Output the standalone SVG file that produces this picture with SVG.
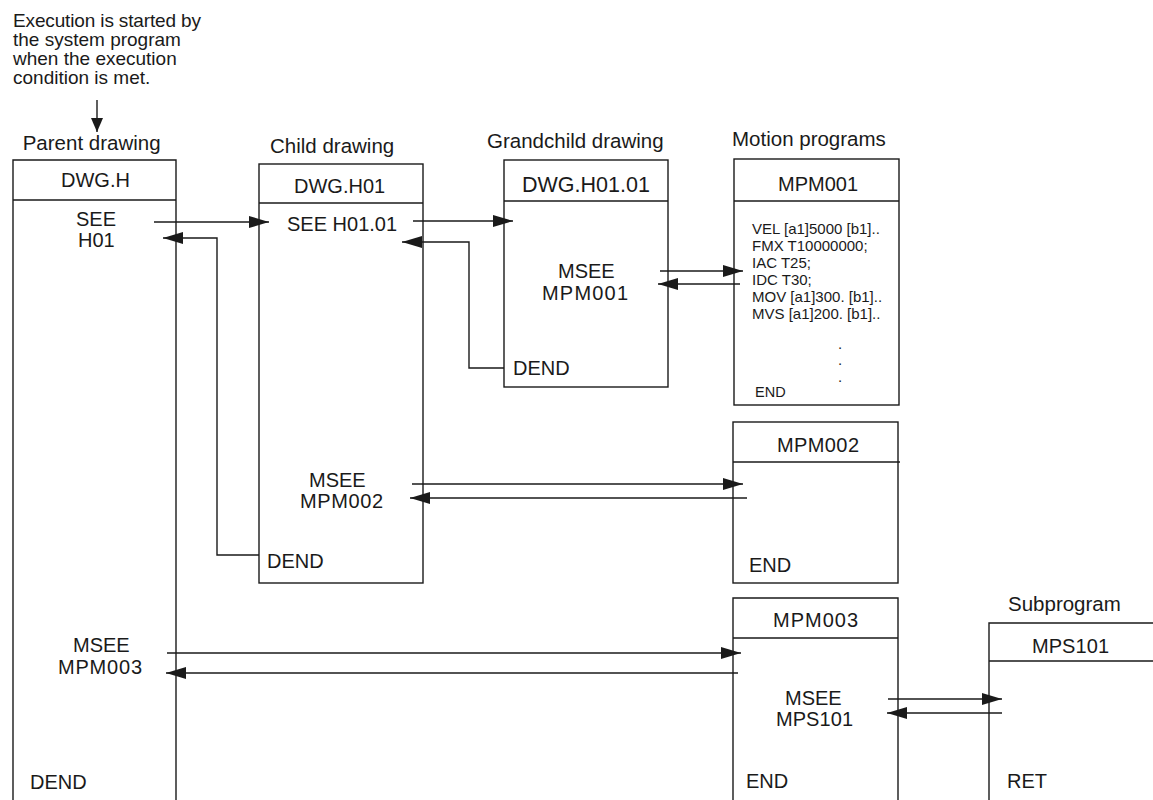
<svg xmlns="http://www.w3.org/2000/svg" width="1153" height="800" viewBox="0 0 1153 800">
<defs>
<style>
text{font-family:"Liberation Sans",Arial,Helvetica,sans-serif;fill:#1a1a1a;font-size:20px}
.lbl{font-size:20.5px}
.note{font-size:19px}
.code{font-size:15px}
.box{fill:none;stroke:#1a1a1a;stroke-width:1.4}
.con{fill:none;stroke:#1a1a1a;stroke-width:1.4;marker-end:url(#ah)}
</style>
<marker id="ah" viewBox="0 0 20 12" markerWidth="20" markerHeight="12" refX="20" refY="6" markerUnits="userSpaceOnUse" orient="auto">
<path d="M0,0 L20,6 L0,12 z" fill="#1a1a1a"/>
</marker>
<marker id="ahs" viewBox="0 0 14 12" markerWidth="14" markerHeight="12" refX="14" refY="6" markerUnits="userSpaceOnUse" orient="auto">
<path d="M0,0 L14,6 L0,12 z" fill="#1a1a1a"/>
</marker>
</defs>
<rect width="1153" height="800" fill="#ffffff"/>

<g id="note">
<text class="note" x="13" y="26.5" textLength="188">Execution is started by</text>
<text class="note" x="13" y="45.5">the system program</text>
<text class="note" x="13" y="64.5">when the execution</text>
<text class="note" x="13" y="83.5">condition is met.</text>
</g>

<g id="parent">
<text class="lbl" x="22.7" y="150">Parent drawing</text>
<path class="box" d="M13,800 V160 H176 V800 M13,200 H176"/>
<text x="61" y="187">DWG.H</text>
<text x="76" y="226">SEE</text>
<text x="78" y="247">H01</text>
<text x="73" y="652">MSEE</text>
<text x="58" y="674" textLength="84">MPM003</text>
<text x="30" y="789">DEND</text>
</g>

<g id="child">
<text class="lbl" x="270" y="153">Child drawing</text>
<rect class="box" x="259" y="164" width="164" height="419"/>
<path class="box" d="M259,203 H423"/>
<text x="294" y="193">DWG.H01</text>
<text x="287" y="231">SEE H01.01</text>
<text x="309" y="487">MSEE</text>
<text x="300" y="508" textLength="83">MPM002</text>
<text x="267" y="568">DEND</text>
</g>

<g id="grandchild">
<text class="lbl" x="487" y="148">Grandchild drawing</text>
<rect class="box" x="504" y="160" width="164" height="227"/>
<path class="box" d="M504,201 H668"/>
<text x="522" y="191.5" style="font-size:21.5px">DWG.H01.01</text>
<text x="558" y="278">MSEE</text>
<text x="542" y="300" textLength="86">MPM001</text>
<text x="513" y="375">DEND</text>
</g>

<g id="mpm001">
<text class="lbl" x="732" y="146">Motion programs</text>
<rect class="box" x="734" y="159" width="165" height="246"/>
<path class="box" d="M734,201 H899"/>
<text x="778" y="190.5">MPM001</text>
<text class="code" x="752" y="234">VEL [a1]5000 [b1]..</text>
<text class="code" x="752" y="251">FMX T10000000;</text>
<text class="code" x="752" y="268">IAC T25;</text>
<text class="code" x="752" y="285">IDC T30;</text>
<text class="code" x="752" y="302">MOV [a1]300. [b1]..</text>
<text class="code" x="752" y="319">MVS [a1]200. [b1]..</text>
<text class="code" x="838" y="349">.</text>
<text class="code" x="838" y="365">.</text>
<text class="code" x="838" y="382">.</text>
<text class="code" x="755" y="397" style="font-size:14.5px">END</text>
</g>

<g id="mpm002">
<rect class="box" x="733" y="422" width="165" height="161"/>
<path class="box" d="M733,462 H900"/>
<text x="777" y="452" textLength="82">MPM002</text>
<text x="749" y="572">END</text>
</g>

<g id="mpm003">
<path class="box" d="M733,800 V598 H898 V800 M733,638 H898"/>
<text x="773" y="627" textLength="85">MPM003</text>
<text x="785" y="705">MSEE</text>
<text x="776" y="726" textLength="77">MPS101</text>
<text x="746" y="788">END</text>
</g>

<g id="mps101">
<text class="lbl" x="1008" y="611">Subprogram</text>
<path class="box" d="M989,800 V623 H1153 M989,661 H1153"/>
<text x="1032" y="653" textLength="77">MPS101</text>
<text x="1007" y="788">RET</text>
</g>

<g id="connectors">
<path d="M97,100 V132" fill="none" stroke="#1a1a1a" stroke-width="1.4" marker-end="url(#ahs)"/>
<path class="con" d="M154,222 H269"/>
<path class="con" d="M259,555 H217 V238 H163"/>
<path class="con" d="M413,221 H513"/>
<path class="con" d="M504,368 H469 V242 H402"/>
<path class="con" d="M660,271 H743"/>
<path class="con" d="M740,284 H658"/>
<path class="con" d="M412,484 H743"/>
<path class="con" d="M747,498 H410"/>
<path class="con" d="M167,653 H741"/>
<path class="con" d="M738,673 H166"/>
<path class="con" d="M888,699 H1002"/>
<path class="con" d="M1002,713 H887"/>
</g>
</svg>
